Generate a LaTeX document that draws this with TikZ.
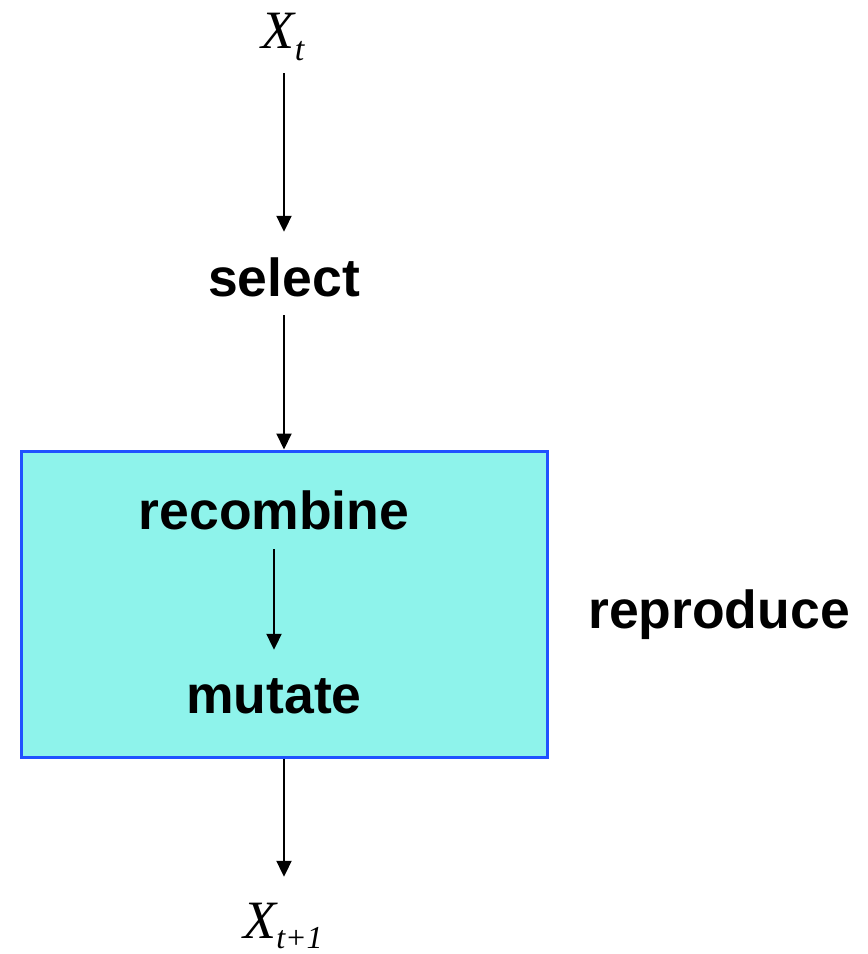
\documentclass[tikz,border=0pt]{standalone}
\usepackage{fontspec}
\setmainfont{Liberation Sans}
\newfontfamily\seriffont{Liberation Serif}
\usetikzlibrary{arrows.meta}
\definecolor{boxfill}{RGB}{142,243,235}
\definecolor{boxline}{RGB}{32,82,255}
\tikzset{
  arr/.style={line width=2pt,-{Triangle[width=15pt,length=16pt]}},
  lbl/.style={inner sep=0pt,anchor=base,text height=38pt,text depth=11pt,font=\fontsize{53.5}{60}\selectfont\bfseries},
  var/.style={inner sep=0pt,anchor=base,text height=40pt,text depth=12pt,font=\seriffont\fontsize{54}{60}\selectfont\itshape},
}
\begin{document}
\begin{tikzpicture}[x=1pt,y=-1pt]
\useasboundingbox (0,0) rectangle (868,954);
\node[draw=boxline,fill=boxfill,line width=3pt,minimum width=526pt,minimum height=306pt,inner sep=0pt] (box) at (284,604) {};
\node[var] (xt) at (283,48) {X\raisebox{-12pt}{\fontsize{34}{40}\selectfont t}};
\node[var] (xt1) at (283,938) {X\raisebox{-10pt}{\fontsize{32}{40}\selectfont t+1}};
\node[lbl] (select) at (284,296) {select};
\node[lbl] (recomb) at (274,529) {recombine};
\node[lbl] (mutate) at (274,713) {mutate};
\node[lbl] (repro) at (719,628) {reproduce};
\draw[arr] ([yshift=-13pt]xt.south -| select.south) -- ([yshift=26pt]select.north);
\draw[arr] ([yshift=-8pt]select.south) -- (box.north);
\draw[arr] ([yshift=-9pt]recomb.south) -- ([yshift=25pt]mutate.north);
\draw[arr] (box.south) -- ([yshift=21pt]xt1.north -| box.south);
\end{tikzpicture}
\end{document}
